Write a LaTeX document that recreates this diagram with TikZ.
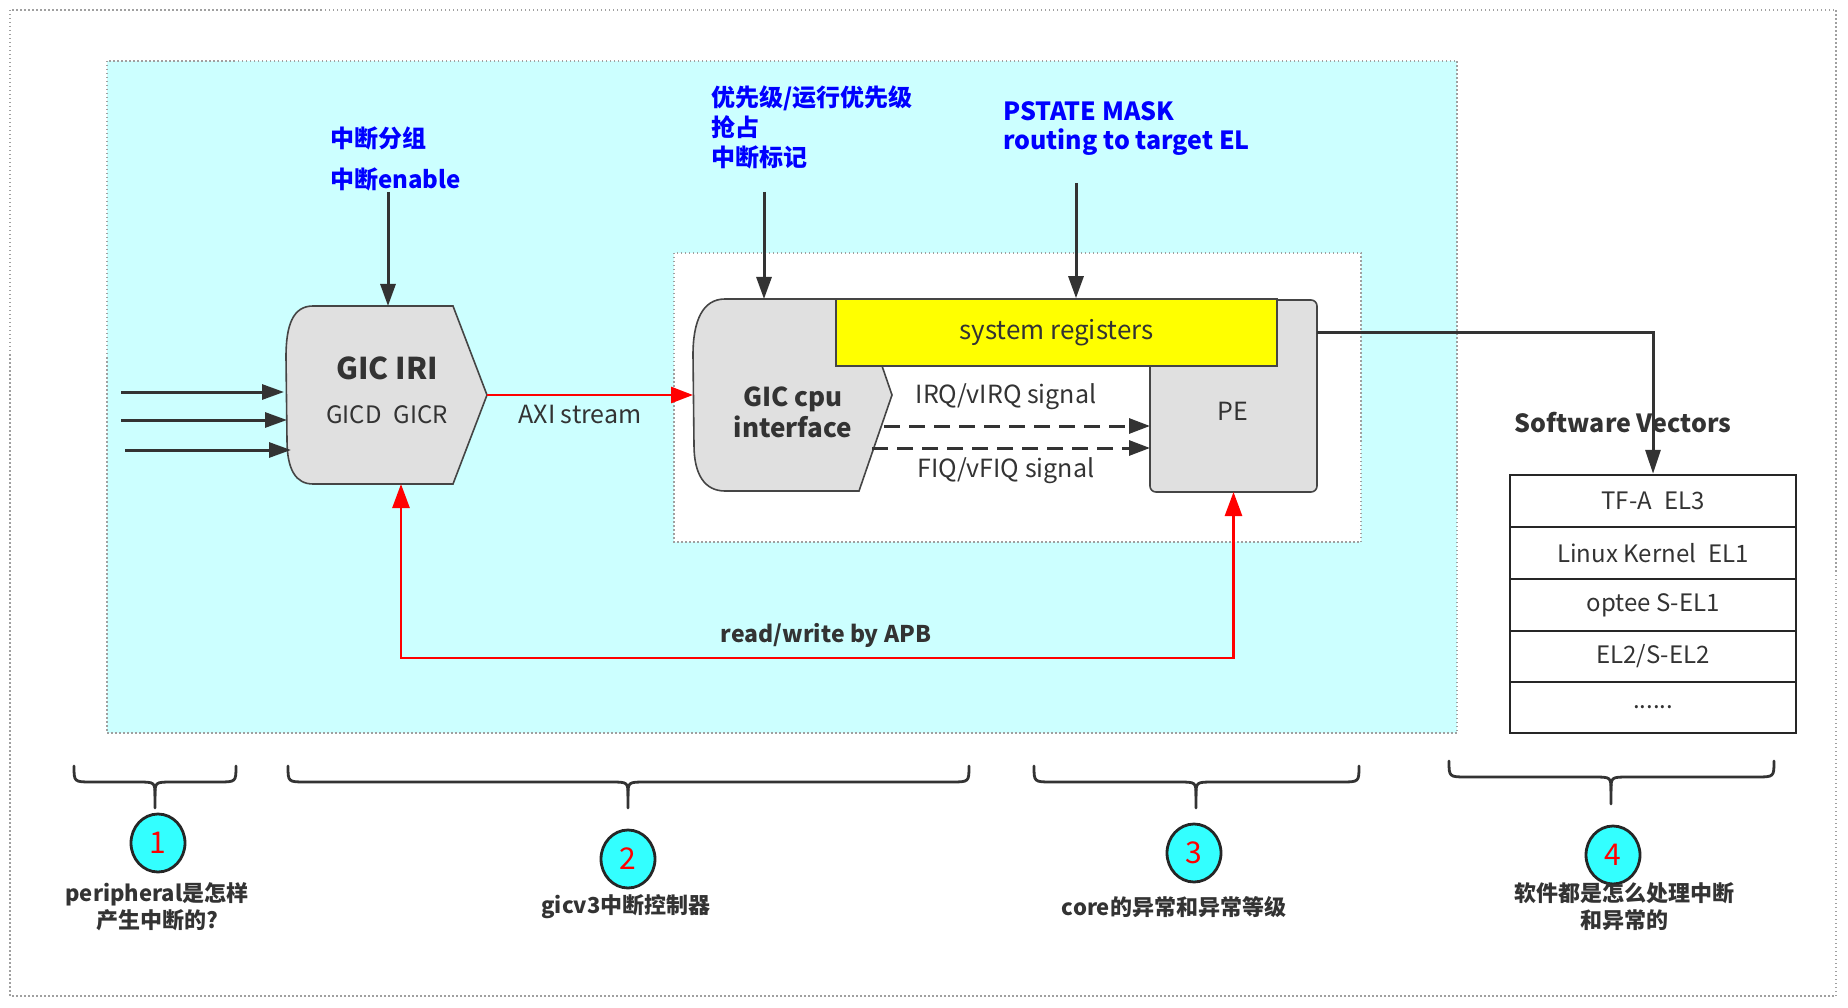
\documentclass[tikz,border=0pt]{standalone}
\usepackage{fontspec}
\setmainfont{Noto Sans CJK SC}
\usetikzlibrary{arrows.meta,shapes.geometric}
\definecolor{cyanbg}{HTML}{CCFFFF}
\definecolor{shapegray}{HTML}{E0E0E0}
\definecolor{edge}{HTML}{454545}
\definecolor{txt}{HTML}{333333}
\definecolor{dotgray}{HTML}{A0A0A0}
\definecolor{circfill}{HTML}{33FFFF}
\definecolor{ylw}{HTML}{FFFF00}
\definecolor{bluetxt}{HTML}{0000FF}
\newcommand\fsz[2]{\fontsize{#1}{#2}\selectfont}
\newcommand\ubrace[5]{% x1 xm x2 ytop ybottom
  \draw[bracestyle] (#1,#4) .. controls (#1,#4+16) and (#1,#4+16) .. (#1+18,#4+16)
    -- (#2-18,#4+16) .. controls (#2,#4+16) and (#2,#4+16) .. (#2,#4+30) -- (#2,#5);
  \draw[bracestyle] (#2,#4+30) .. controls (#2,#4+16) and (#2,#4+16) .. (#2+18,#4+16)
    -- (#3-18,#4+16) .. controls (#3,#4+16) and (#3,#4+16) .. (#3,#4);}
\begin{document}
\begin{tikzpicture}[x=1pt,y=-1pt,
  txtnode/.style={text=txt, inner sep=0pt},
  bluelbl/.style={text=bluetxt, inner sep=0pt, font=\bfseries\fsz{24}{30}, align=left},
  blk/.style={draw=edge, line width=1.6pt, fill=shapegray},
  bbox/.style={inner sep=0pt, outer sep=0pt},
  arr/.style={draw=txt, line width=3pt, -{Triangle[length=22pt,width=15pt]}},
  redarr/.style={draw=red, line width=2.7pt},
  dasharr/.style={draw=txt, line width=3pt, dash pattern=on 16pt off 9pt, -{Triangle[length=21pt,width=15pt]}},
  dotbox/.style={draw=dotgray, line width=1.5pt, dash pattern=on 1.5pt off 2.5pt},
  rowbox/.style={draw=black!85, line width=2.4pt, minimum width=286pt, minimum height=52pt, inner sep=0pt, text=txt, font=\fsz{24}{28}},
  bracestyle/.style={draw=txt, line width=2.8pt, line cap=round},
  numcirc/.style={ellipse, draw=black!85, line width=2.8pt, fill=circfill, minimum width=54pt, minimum height=58pt, inner sep=0pt, text=red, font=\fsz{30}{34}},
  btmlbl/.style={text=txt, inner sep=0pt, align=center, font=\bfseries\fsz{22}{27}}
]
\useasboundingbox (0,0) rectangle (1848,1008);
% outer and background regions
\draw[dotbox] (10,10) rectangle (1836,996);
\draw[dotbox, fill=cyanbg] (107,61) rectangle (1457,733);
\draw[dotbox, fill=white] (674,253) rectangle (1361,542);

% bounding nodes
\node[bbox, minimum width=202pt, minimum height=178pt] (iri) at (386,395) {};
\node[bbox, minimum width=199pt, minimum height=192pt] (cpu) at (792.5,395) {};
\node[bbox, minimum width=167pt, minimum height=192pt] (pe) at (1233.5,396) {};

% GIC IRI shape
\draw[blk] (313,306) -- (453,306) -- (487,395) -- (453,484) -- (313,484)
  .. controls (296,484) and (287,470) .. (287,440) -- (286,357)
  .. controls (286,325) and (293,306) .. (313,306) -- cycle;
\node[txtnode, font=\bfseries\fsz{30}{34}] (iriT) at (387,368) {GIC IRI};
\node[txtnode, font=\fsz{24}{28}] (iriS) at (387,415) {GICD\enspace GICR};

% GIC cpu interface shape
\draw[blk] (725,299) -- (859,299) -- (892,395) -- (859,491) -- (725,491)
  .. controls (705,491) and (694,475) .. (694,445) -- (693,355)
  .. controls (693,320) and (703,299) .. (725,299) -- cycle;
\node[txtnode, font=\bfseries\fsz{26}{31}, align=center] (cpuT) at (793,412) {GIC cpu\\interface};

% PE box
\draw[blk, rounded corners=6pt] (pe.north west) rectangle (pe.south east);
\node[txtnode, font=\fsz{25}{30}] (peT) at (1233,411) {PE};

% system registers
\node[draw=edge, line width=1.6pt, fill=ylw, minimum width=441pt, minimum height=67pt, inner sep=0pt, text=txt, font=\fsz{26}{30}] (sr) at (1056.5,332.5) {system registers};

% blue labels
\node[bluelbl, anchor=west, font=\bfseries\fsz{24}{41}] (lbl1) at (330,158.5) {中断分组\\中断enable};
\node[bluelbl, anchor=west, font=\bfseries\fsz{24}{30}] (lbl2) at (711,127) {优先级/运行优先级\\抢占\\中断标记};
\node[bluelbl, anchor=west, font=\bfseries\fsz{25}{29}] (lbl3) at (1003,128.5) {PSTATE MASK\\routing to target EL};

\coordinate (s1) at (388,192);
\coordinate (s2) at (764,192);
\coordinate (s3) at (1076,183);
\draw[arr] (s1) -- (s1 |- iri.north);
\draw[arr] (s2) -- (s2 |- cpu.north);
\draw[arr] (s3) -- (s3 |- sr.north);

% input arrows
\coordinate (i1) at (121,392);
\coordinate (i2) at (121,420);
\coordinate (i3) at (125,450);
\coordinate (e1) at (284,392);
\coordinate (e2) at (287,420);
\coordinate (e3) at (291,450);
\draw[arr] (i1) -- (e1);
\draw[arr] (i2) -- (e2);
\draw[arr] (i3) -- (e3);

% AXI stream
\draw[redarr, -{Triangle[length=22pt,width=16pt]}] (iri.east) -- (iri.east -| cpu.west);
\node[txtnode, font=\fsz{25}{30}] (axi) at (580,414) {AXI stream};

% IRQ / FIQ
\coordinate (irq) at (884,426);
\coordinate (fiq) at (872,448);
\draw[dasharr] (irq) -- (irq -| pe.west);
\draw[dasharr] (fiq) -- (fiq -| pe.west);
\node[txtnode, font=\fsz{25}{30}] (irqT) at (1006,397) {IRQ/vIRQ signal};
\node[txtnode, font=\fsz{25}{30}] (fiqT) at (1006,471) {FIQ/vFIQ signal};

% APB
\coordinate (apbL) at (401,658);
\coordinate (apbR) at (pe.south |- apbL);
\draw[redarr, {Triangle[length=24pt,width=17pt]}-{Triangle[length=24pt,width=17pt]}] (apbL |- iri.south) -- (apbL) -- (apbR) -- (pe.south);
\node[txtnode, font=\bfseries\fsz{23}{28}] (apb) at (826,635) {read/write by APB};

% Software vectors
\node[txtnode, font=\bfseries\fsz{25}{30}] (swv) at (1623,423) {Software Vectors};
\node[rowbox] (r1) at (1653,501) {TF-A\enspace EL3};
\node[rowbox] (r2) at (1653,553) {Linux Kernel\enspace EL1};
\node[rowbox] (r3) at (1653,605) {optee S-EL1};
\node[rowbox, minimum height=51pt] (r4) at (1653,656.5) {EL2/S-EL2};
\node[rowbox, minimum height=51pt] (r5) at (1653,707.5) {......};
\draw[arr, -{Triangle[length=24pt,width=15pt]}] (pe.east |- sr.center) -- (r1.north |- sr.center) -- (r1.north);

% braces
\ubrace{74}{155}{236}{766}{808}
\ubrace{288}{628}{969}{766}{808}
\ubrace{1034}{1196}{1359}{766}{808}
\ubrace{1449}{1611}{1774}{761}{804}

% numbered circles
\node[numcirc] (c1) at (158,843) {1};
\node[numcirc] (c2) at (628,859) {2};
\node[numcirc] (c3) at (1194,853) {3};
\node[numcirc] (c4) at (1613,855) {4};

% bottom labels
\node[btmlbl] (b1) at (157,906.5) {peripheral是怎样\\产生中断的?};
\node[btmlbl] (b2) at (626,907) {gicv3中断控制器};
\node[btmlbl] (b3) at (1174,907) {core的异常和异常等级};
\node[btmlbl] (b4) at (1624,907) {软件都是怎么处理中断\\和异常的};
\end{tikzpicture}
\end{document}
